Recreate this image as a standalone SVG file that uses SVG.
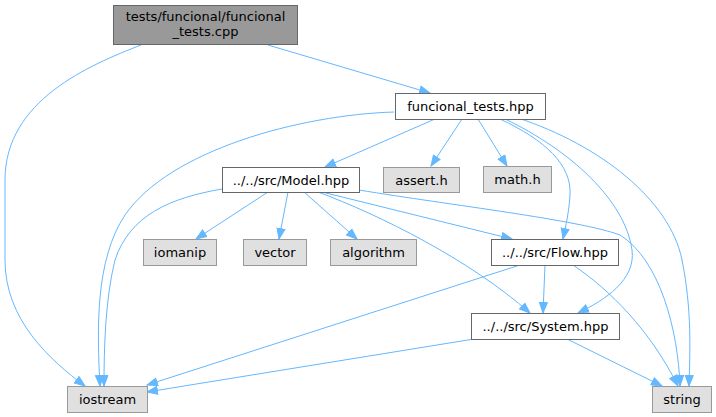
<svg xmlns="http://www.w3.org/2000/svg" width="716" height="417" viewBox="0 0 716 417">
<style>
text{font-family:"DejaVu Sans",sans-serif;font-size:13px;text-anchor:middle;fill:#000}
.n rect{fill:#fff;stroke:#666;stroke-width:1}
.s rect{fill:#e0e0e0;stroke:#999;stroke-width:1}
.r rect{fill:#999;stroke:#666;stroke-width:1}
#edges path{fill:none;stroke:#63b8ff;stroke-width:1;marker-end:url(#a)}
</style>
<defs>
<marker id="a" markerUnits="userSpaceOnUse" markerWidth="12" markerHeight="10" refX="11" refY="5" orient="auto" viewBox="0 0 12 10">
<path d="M0.5,1 L11,5 L0.5,9 Z" fill="#63b8ff" stroke="#63b8ff" stroke-width="1"/>
</marker>
</defs>
<rect width="716" height="417" fill="#fff"/>
<g id="edges">
<path d="M268,45 L430,93"/>
<path d="M141,45 C90,65 5,100 5,180 L5,260 C5,320 50,360 85,386"/>
<path d="M394,112 C300,115 170,150 125,215 C95,260 97,330 100,386"/>
<path d="M222,189 C170,198 130,215 115,260 C105,300 104,350 104,386"/>
<path d="M435,119 L325,167"/>
<path d="M462,119 L431,166"/>
<path d="M478,119 L507,166"/>
<path d="M500,119 C545,140 572,165 570,195 C569,212 566,225 563,239"/>
<path d="M505,119 C570,150 625,200 632,250 C636,280 605,300 578,313"/>
<path d="M518,118 C600,145 670,200 682,260 C692,310 690,350 689,386"/>
<path d="M268,192 L196,239"/>
<path d="M288,192 L279,239"/>
<path d="M304,192 L357,239"/>
<path d="M322,192 L512,239"/>
<path d="M318,192 C380,215 470,260 530,313"/>
<path d="M359,190 C450,205 580,220 620,235 C660,260 678,330 680,386"/>
<path d="M545,265 L543,313"/>
<path d="M520,265 L147,385"/>
<path d="M573,265 C610,290 650,330 678,386"/>
<path d="M474,339 L147,392"/>
<path d="M567,339 L662,386"/>
</g>
<g id="node-root" class="r"><rect x="113.5" y="5.5" width="184" height="39"/><text x="205.5" y="21">tests/funcional/funcional</text><text x="205.5" y="36">_tests.cpp</text></g>
<g id="node-hpp" class="n"><rect x="395.5" y="93.5" width="150" height="26"/><text x="470.5" y="111">funcional_tests.hpp</text></g>
<g id="node-model" class="n"><rect x="222.5" y="167.5" width="137" height="25"/><text x="291" y="185">../../src/Model.hpp</text></g>
<g id="node-assert" class="s"><rect x="383.5" y="167.5" width="76" height="25"/><text x="421.5" y="185">assert.h</text></g>
<g id="node-math" class="s"><rect x="483.5" y="166.5" width="68" height="26"/><text x="517.5" y="184">math.h</text></g>
<g id="node-iomanip" class="s"><rect x="143.5" y="239.5" width="73" height="26"/><text x="180" y="257">iomanip</text></g>
<g id="node-vector" class="s"><rect x="243.5" y="239.5" width="63" height="26"/><text x="275" y="257">vector</text></g>
<g id="node-algorithm" class="s"><rect x="330.5" y="239.5" width="86" height="26"/><text x="373.5" y="257">algorithm</text></g>
<g id="node-flow" class="n"><rect x="491.5" y="239.5" width="127" height="26"/><text x="555" y="257">../../src/Flow.hpp</text></g>
<g id="node-system" class="n"><rect x="471.5" y="313.5" width="148" height="26"/><text x="545.5" y="331">../../src/System.hpp</text></g>
<g id="node-string" class="s"><rect x="652.5" y="386.5" width="59" height="26"/><text x="682" y="404">string</text></g>
<g id="node-iostream" class="s"><rect x="67.5" y="386.5" width="80" height="26"/><text x="107.5" y="404">iostream</text></g>
</svg>
